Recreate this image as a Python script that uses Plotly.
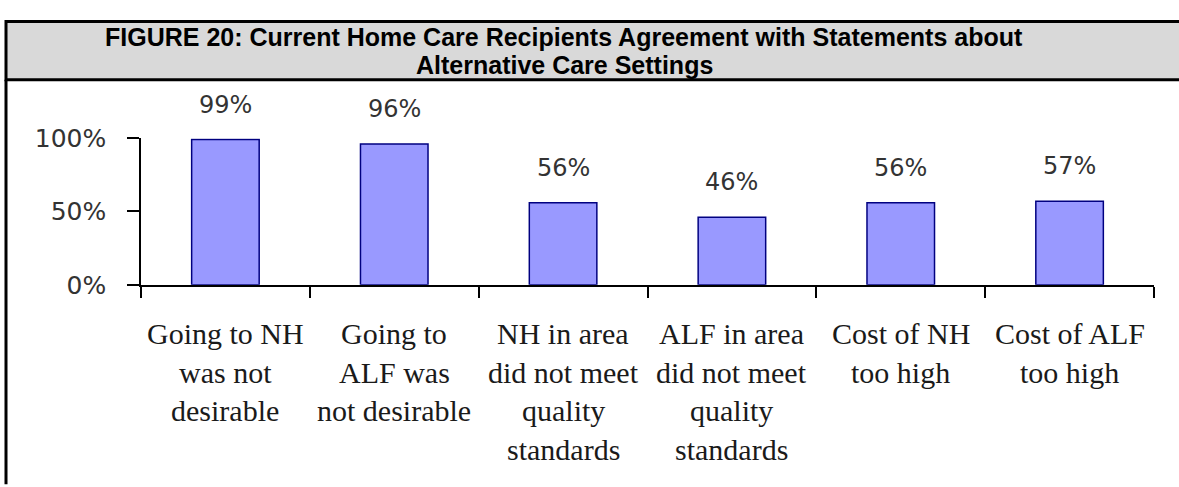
import plotly.graph_objects as go

W, H = 1179, 487

title_lines = ["FIGURE 20: Current Home Care Recipients Agreement with Statements about",
               "Alternative Care Settings"]
category_lines = [
    ["Going to NH", "was not", "desirable"],
    ["Going to", "ALF was", "not desirable"],
    ["NH in area", "did not meet", "quality", "standards"],
    ["ALF in area", "did not meet", "quality", "standards"],
    ["Cost of NH", "too high"],
    ["Cost of ALF", "too high"],
]
categories = [" ".join(l) for l in category_lines]
values = [99, 96, 56, 46, 56, 57]
value_labels = ["99%", "96%", "56%", "46%", "56%", "57%"]
y_tickvals = [0, 50, 100]
y_ticktext = ["0%", "50%", "100%"]


def px_x(x):
    return x / W


def px_y(y):
    return 1 - y / H


fig = go.Figure()
fig.add_trace(go.Bar(
    x=categories, y=values,
    marker=dict(color="#9999FF", line=dict(color="#000080", width=1.5)),
    hoverinfo="skip",
))

annotations = []
# value labels
for c, v, t in zip(categories, values, value_labels):
    annotations.append(dict(x=c, y=v, xref="x", yref="y", text=t, showarrow=False,
                            yanchor="middle", yshift=35,
                            font=dict(family="DejaVu Sans", size=24, color="#333333")))
# category labels (one annotation per line for Excel-like line spacing)
line_y = [340, 381, 422, 463]
for c, lines in zip(categories, category_lines):
    for i, ln in enumerate(lines):
        annotations.append(dict(x=c, y=px_y(line_y[i]), xref="x", yref="paper", text=ln,
                                showarrow=False, yanchor="middle",
                                font=dict(family="Liberation Serif", size=30, color="#1a1a1a")))
# title
for i, (tl, ty) in enumerate(zip(title_lines, [24, 54])):
    annotations.append(dict(x=px_x(564), y=px_y(ty), xref="paper", yref="paper", text="<b>%s</b>" % tl,
                            showarrow=False, xanchor="center", yanchor="middle",
                            font=dict(family="Liberation Sans", size=25, color="#000000")))

shapes = [
    dict(type="rect", xref="paper", yref="paper", x0=px_x(6), x1=px_x(1190), y0=px_y(70), y1=px_y(8),
         fillcolor="#D9D9D9", line=dict(color="#000000", width=3), layer="below"),
    dict(type="line", xref="paper", yref="paper", x0=px_x(6), x1=px_x(6), y0=px_y(70), y1=px_y(500),
         line=dict(color="#000000", width=3)),
]

fig.update_layout(
    width=W, height=H,
    margin=dict(l=0, r=0, t=0, b=0),
    paper_bgcolor="white", plot_bgcolor="white",
    showlegend=False,
    bargap=0.6,
    annotations=annotations,
    shapes=shapes,
    xaxis=dict(domain=[px_x(141), px_x(1154)], showgrid=False, zeroline=False,
               showline=True, linecolor="#000000", linewidth=1.5,
               ticks="outside", tickson="boundaries", ticklen=11, tickcolor="#000000", tickwidth=1.5,
               showticklabels=False, fixedrange=True),
    yaxis=dict(domain=[px_y(288), px_y(132)], range=[0, 100], showgrid=False, zeroline=False,
               showline=True, linecolor="#000000", linewidth=1.5,
               tickvals=y_tickvals, ticktext=y_ticktext,
               ticks="outside", ticklen=12, tickcolor="#000000", tickwidth=1.5,
               ticklabelstandoff=16,
               tickfont=dict(family="DejaVu Sans", size=25, color="#333333"), fixedrange=True),
)

fig.write_html("out.html", config={"displayModeBar": False},
               post_script="document.body.style.margin='0';document.body.style.overflow='hidden';")
